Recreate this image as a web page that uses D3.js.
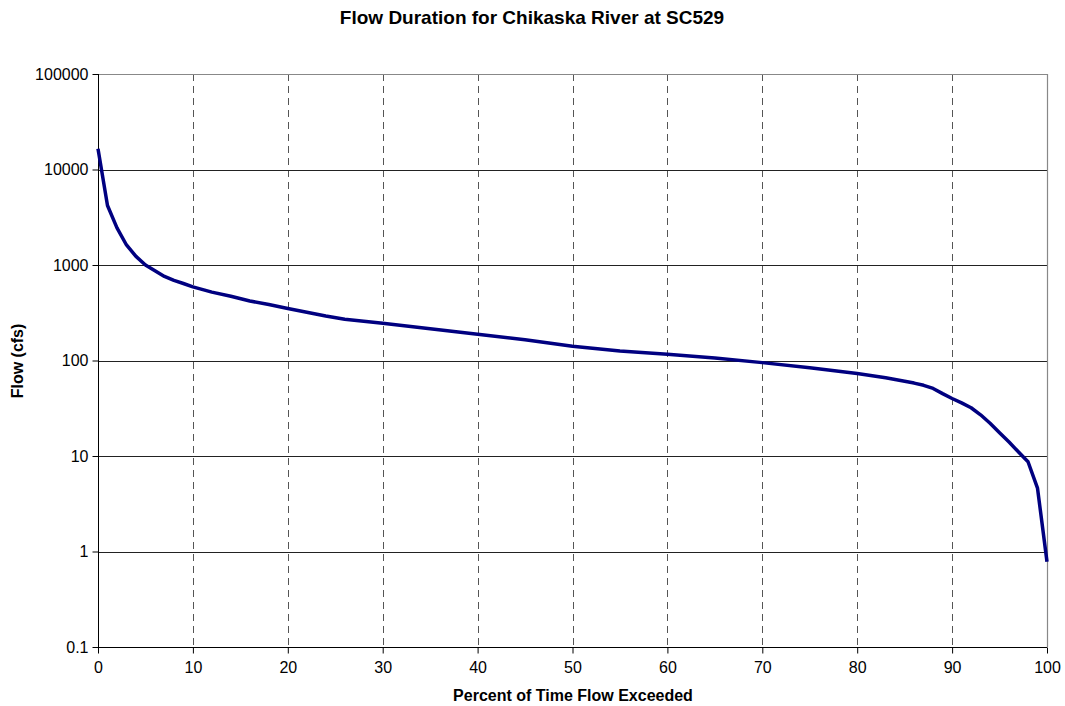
<!DOCTYPE html>
<html>
<head>
<meta charset="utf-8">
<script src="https://cdn.jsdelivr.net/npm/d3@7"></script>
<style>
  body { margin: 0; background: #fff; }
  svg { display: block; font-family: "Liberation Sans", Arial, sans-serif; }
</style>
</head>
<body>
<svg id="chart" width="1065" height="706"></svg>
<script>
const percentExceeded = [0, 1, 2, 3, 4, 5, 6, 7, 8, 9, 10, 12, 14, 16, 18, 20, 22, 24, 26, 28, 30, 35, 40, 45, 50, 55, 60, 65, 70, 75, 80, 83, 86, 87, 88, 89, 90, 91, 92, 93, 94, 95, 96, 97, 98, 99, 100];
const flowCfs = [16500, 4200, 2450, 1620, 1230, 1000, 870, 760, 690, 640, 590, 520, 470, 420, 385, 350, 320, 292, 270, 257, 245, 215, 188, 165, 141, 126, 116, 106, 95, 84, 73, 66, 58, 55, 51, 45, 40, 36, 32, 27, 22, 17.5, 14, 11, 8.7, 4.6, 0.78];
const xTicks = [0, 10, 20, 30, 40, 50, 60, 70, 80, 90, 100];
const yTicks = [0.1, 1, 10, 100, 1000, 10000, 100000];
const yTickLabels = ["0.1", "1", "10", "100", "1000", "10000", "100000"];

(function () {
const svg = d3.select("#chart");
const pL = 98, pR = 1047, pT = 74, pB = 647;

const x = d3.scaleLinear().domain([0, 100]).range([pL, pR]);
const y = d3.scaleLog().domain([0.1, 100000]).range([pB, pT]);

svg.append("g").selectAll("line").data(xTicks.filter(d => d > 0 && d < 100)).join("line")
  .attr("x1", d => Math.round(x(d)) + 0.5).attr("x2", d => Math.round(x(d)) + 0.5)
  .attr("y1", pT).attr("y2", pB)
  .attr("stroke", "#555").attr("stroke-width", 1).attr("stroke-dasharray", "7,5");

svg.append("g").selectAll("line").data(yTicks.filter(d => d > 0.1 && d < 100000)).join("line")
  .attr("x1", pL).attr("x2", pR)
  .attr("y1", d => Math.round(y(d)) + 0.5).attr("y2", d => Math.round(y(d)) + 0.5)
  .attr("stroke", "#222").attr("stroke-width", 1);

svg.append("line").attr("x1", pL).attr("x2", pR + 0.5).attr("y1", pT + 0.5).attr("y2", pT + 0.5)
  .attr("stroke", "#888").attr("stroke-width", 1.2);
svg.append("line").attr("x1", pR + 0.5).attr("x2", pR + 0.5).attr("y1", pT).attr("y2", pB)
  .attr("stroke", "#888").attr("stroke-width", 1.2);

const yAxis = d3.axisLeft(y).tickValues(yTicks).tickFormat((d, i) => yTickLabels[i]).tickSize(6).tickPadding(4);
const gy = svg.append("g").attr("transform", `translate(${pL + 0.5},0)`).call(yAxis);
gy.selectAll("text").attr("font-size", 16).attr("fill", "#000").attr("font-family", "Liberation Sans, Arial, sans-serif");
gy.selectAll("line").attr("stroke", "#000");
gy.select(".domain").attr("stroke", "#000").attr("d", `M0,${pB + 0.5}V${pT}`);

const xAxis = d3.axisBottom(x).tickValues(xTicks).tickFormat(d3.format("d")).tickSize(6).tickPadding(8);
const gx = svg.append("g").attr("transform", `translate(0,${pB + 0.5})`).call(xAxis);
gx.selectAll("text").attr("font-size", 16).attr("fill", "#000").attr("font-family", "Liberation Sans, Arial, sans-serif");
gx.selectAll("line").attr("stroke", "#000");
gx.select(".domain").attr("stroke", "#000").attr("d", `M${pL},0H${pR}`);

const line = d3.line().x((d, i) => x(percentExceeded[i])).y(d => y(d)).curve(d3.curveLinear);
svg.append("path").datum(flowCfs).attr("d", line)
  .attr("fill", "none").attr("stroke", "#000080").attr("stroke-width", 3.5)
  .attr("stroke-linejoin", "round");

svg.append("text").attr("x", 532).attr("y", 24).attr("text-anchor", "middle")
  .attr("font-size", 19).attr("font-weight", "bold").text("Flow Duration for Chikaska River at SC529");
svg.append("text").attr("x", 573).attr("y", 701).attr("text-anchor", "middle")
  .attr("font-size", 16).attr("font-weight", "bold").text("Percent of Time Flow Exceeded");
svg.append("text").attr("transform", "translate(23,361) rotate(-90)").attr("text-anchor", "middle")
  .attr("font-size", 16).attr("font-weight", "bold").text("Flow (cfs)");
})();
</script>
</body>
</html>
